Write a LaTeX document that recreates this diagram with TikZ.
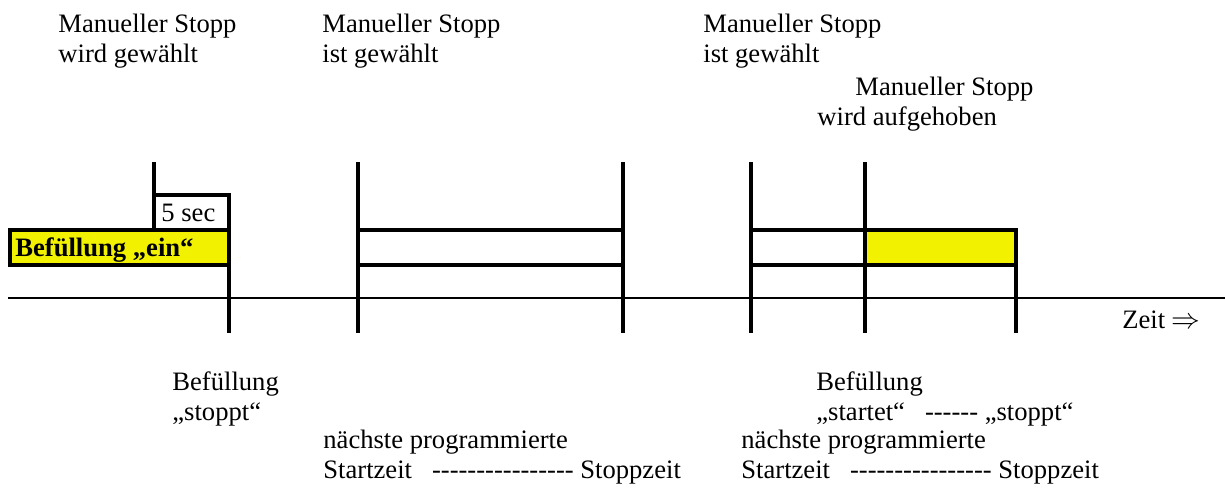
\documentclass[tikz,border=0pt]{standalone}
\usepackage{fontspec}
\setmainfont{Liberation Serif}[Ligatures=TeXOff]
\usepackage{tikz}

\definecolor{fillyellow}{RGB}{242,242,0}

\tikzset{
  bar/.style={line width=2pt},
  lbl/.style={anchor=base west, inner sep=0pt, align=left,
    font=\fontsize{13.3}{15}\selectfont},
}

\begin{document}
\begin{tikzpicture}[x=0.5pt,y=-0.5pt]
\useasboundingbox (0,0) rectangle (1225,489);

% time axis
\draw[line width=0.75pt] (8,298) -- (1225,298);
\node[lbl] (zeit) at (1122,328) {Zeit $\Rightarrow$};

% first stop: filling running, stops after 5 sec
\draw[bar, fill=fillyellow] (10,230) rectangle (229,265);
\node[lbl, font=\fontsize{13.3}{15}\selectfont\bfseries] (ein) at (15,256) {Befüllung „ein“};
\draw[bar] (154,162) -- (154,230);
\draw[bar] (154,195) -- (229,195) -- (229,333);
\node[lbl] (sec) at (161,221) {5 sec};

% second stop: programmed window skipped
\draw[bar] (358,162) -- (358,333);
\draw[bar] (623,162) -- (623,333);
\draw[bar] (358,230) -- (623,230);
\draw[bar] (358,265) -- (623,265);

% third stop: released inside the window
\draw[bar, fill=fillyellow] (865,230) rectangle (1016,265);
\draw[bar] (751,162) -- (751,333);
\draw[bar] (865,162) -- (865,333);
\draw[bar] (751,230) -- (865,230);
\draw[bar] (751,265) -- (865,265);
\draw[bar] (1016,265) -- (1016,333);

% labels above
\node[lbl] (wahl) at (58,62) {Manueller Stopp\\wird gewählt};
\node[lbl] (ist1) at (322,62) {Manueller Stopp\\ist gewählt};
\node[lbl] (ist2) at (703,62) {Manueller Stopp\\ist gewählt};
\node[lbl] (auf) at (817,125) {\hspace*{19pt}Manueller Stopp\\wird aufgehoben};

% labels below
\node[lbl] (stoppt) at (172,420) {Befüllung\\„stoppt“};
\node[lbl] (startet) at (816,420) {Befüllung\\„startet“\hspace{10pt}------ „stoppt“};
\node[lbl] (prog1) at (323,478) {nächste programmierte\\Startzeit\hspace{10pt}---------------- Stoppzeit};
\node[lbl] (prog2) at (741,478) {nächste programmierte\\Startzeit\hspace{10pt}---------------- Stoppzeit};
\end{tikzpicture}
\end{document}
